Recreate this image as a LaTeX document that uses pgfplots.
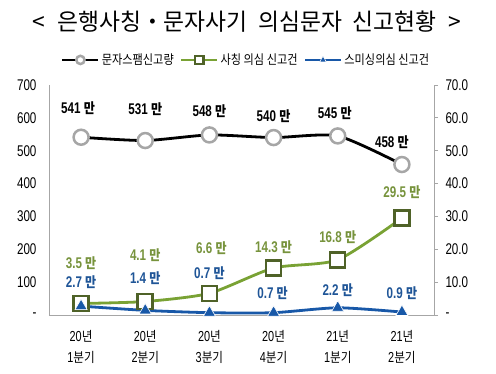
\documentclass[border=0pt]{standalone}
\usepackage{fontspec}
\setmainfont{Liberation Sans}[FakeStretch=0.75]
\newfontfamily\kr{Noto Sans CJK KR}[FakeStretch=0.86]
\newfontfamily\krtitle{Noto Sans CJK KR}[FakeStretch=0.97]
\usepackage{pgfplots}
\usepackage{pgfplotstable}
\pgfplotsset{compat=1.18}
\definecolor{cgray}{HTML}{A6A6A6}
\definecolor{cgreen}{HTML}{79A234}
\definecolor{cgreenlab}{HTML}{77933C}
\definecolor{cgreendk}{HTML}{4F6228}
\definecolor{cblue}{HTML}{1858A8}
\definecolor{cbluelab}{HTML}{1F5597}
\newcommand{\ticksize}{\fontsize{15.5}{17}\selectfont}
\newcommand{\labfont}{\bfseries\fontsize{15.5}{17}\selectfont}
\newcommand{\man}{{\kr\bfseries\fontsize{14}{16}\selectfont 만}}
\newcommand{\kx}{\kr\fontsize{13.5}{21}\selectfont}

\pgfplotstableread{
x y off dx
0 541 29 -3
1 531 31 0
2 548 24 0
3 540 21 0
4 545 23 -3
5 458 22 -10
}\tblA
\pgfplotstableread{
x y off dx
0 3.5 40 0
1 4.1 46 0
2 6.6 45 2
3 14.3 21 0
4 16.8 23 0
5 29.5 26 0
}\tblB
\pgfplotstableread{
x y off dx
0 2.7 24 0
1 1.4 32 0
2 0.7 40 0
3 0.7 20 -1
4 2.2 18 0
5 0.9 19 0
}\tblC

\pgfplotsset{
  lab/.style={
    nodes near coords={\pgfplotspointmeta~\man},
    point meta=explicit symbolic,
    visualization depends on={\thisrow{off} \as \myoff},
    visualization depends on={\thisrow{dx} \as \mydx},
    every node near coord/.append style={anchor=center, yshift=\myoff pt, xshift=\mydx pt, font=\labfont, text=#1},
  },
  legend image code/.code={
    \draw[#1, mark=none] (0pt,0pt) -- (36pt,0pt);
    \draw[#1, every mark/.append style={scale=0.55}] plot coordinates {(18pt,0pt)};
  },
}

\begin{document}
\begin{tikzpicture}
\useasboundingbox (-49pt,-59pt) rectangle (447pt,315pt);
\node[font=\krtitle\fontsize{23.5}{26}\selectfont, anchor=center] at (198pt,293pt)
  {<\hspace{0.5em}은행사칭・문자사기\hspace{0.45em}의심문자\hspace{0.45em}신고현황\hspace{0.5em}>};

\begin{axis}[
  at={(0pt,0pt)}, anchor=south west,
  scale only axis, width=385pt, height=230pt,
  xmin=-0.5, xmax=5.5, ymin=0, ymax=700,
  axis x line*=bottom, axis y line*=left,
  axis line style={draw=cgray, line width=0.9pt},
  xtick={0,...,5},
  xticklabels={{20{\kx 년}\\1{\kx 분기}},{20{\kx 년}\\2{\kx 분기}},{20{\kx 년}\\3{\kx 분기}},{20{\kx 년}\\4{\kx 분기}},{21{\kx 년}\\1{\kx 분기}},{21{\kx 년}\\2{\kx 분기}}},
  xticklabel style={align=center, font=\fontsize{14.5}{21}\selectfont, yshift=-12pt},
  major tick length=0pt,
  ytick={0,100,200,300,400,500,600,700},
  yticklabels={-,100,200,300,400,500,600,700},
  yticklabel style={font=\ticksize, xshift=-9pt},
  clip=false,
]
\addplot[black, line width=2.8pt, smooth, tension=0.4,
  mark=*, mark size=7.5pt, mark options={draw=cgray, fill=white, line width=2.5pt},
  lab=black] table[x=x, y=y, meta=y] {\tblA};
\end{axis}

\begin{axis}[
  at={(0pt,0pt)}, anchor=south west,
  scale only axis, width=385pt, height=230pt,
  xmin=-0.5, xmax=5.5, ymin=0, ymax=70,
  axis x line=none, axis y line*=right,
  axis line style={draw=cgray, line width=0.9pt},
  ytick={0,10,20,30,40,50,60,70},
  yticklabels={-,10.0,20.0,30.0,40.0,50.0,60.0,70.0},
  yticklabel style={font=\ticksize, xshift=4pt},
  tick align=outside, major tick length=4pt, tick style={draw=cgray, line width=0.8pt},
  clip=false,
  legend columns=3,
  legend style={draw=none, fill=none, at={(0.512,1.109)}, anchor=center,
    font=\kr\fontsize{13}{14}\selectfont,
    /tikz/every even column/.append style={column sep=4pt}},
  legend cell align=left,
]
\addlegendimage{black, line width=2.8pt, mark=*, mark size=7.5pt, mark options={draw=cgray, fill=white, line width=2.5pt}}
\addlegendentry{문자스팸신고량}
\addplot[cgreen, line width=2.8pt, smooth, tension=0.4,
  mark=square*, mark size=7.5pt, mark options={draw=cgreendk, fill=white, line width=2.5pt},
  lab=cgreenlab] table[x=x, y=y, meta=y] {\tblB};
\addlegendentry{사칭 의심 신고건}
\addplot[cblue, line width=2.8pt, smooth, tension=0.4,
  mark=triangle*, mark size=7pt, mark options={draw=white, fill=cblue, line width=0.6pt},
  lab=cbluelab] table[x=x, y=y, meta=y] {\tblC};
\addlegendentry{스미싱의심 신고건}
\end{axis}
\end{tikzpicture}
\end{document}
